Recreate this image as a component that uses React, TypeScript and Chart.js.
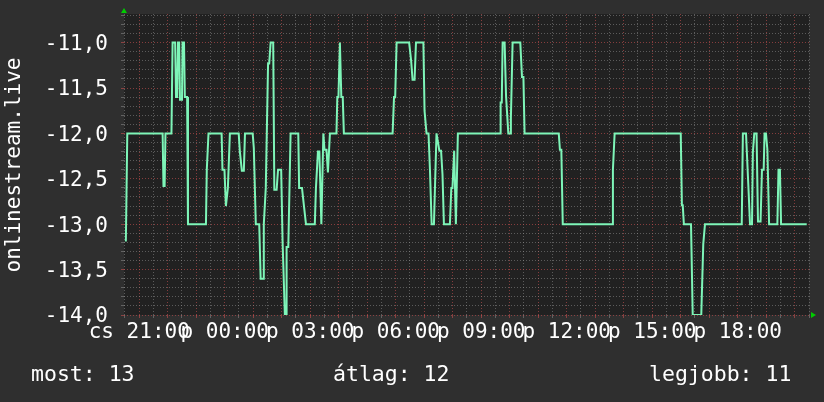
import React, { useEffect, useRef } from "react";
import { Chart, registerables } from "chart.js";

Chart.register(...registerables);

// time in hours counted from Thursday 00:00 (values > 24 are Friday)
const hours = [
  20.53, 20.58, 21.82, 21.85, 21.89, 21.92, 22.13, 22.17, 22.26, 22.29,
  22.33, 22.36, 22.4, 22.43, 22.5, 22.52, 22.57, 22.6, 22.68, 22.71,
  23.34, 23.37, 23.43, 23.89, 23.92, 23.99, 24.04, 24.11, 24.18, 24.49,
  24.53, 24.6, 24.67, 24.71, 24.98, 25.02, 25.09, 25.21, 25.26, 25.35,
  25.37, 25.44, 25.52, 25.56, 25.61, 25.7, 25.74, 25.82, 25.87, 25.98,
  26.03, 26.11, 26.15, 26.17, 26.23, 26.31, 26.58, 26.61, 26.71, 26.78,
  26.85, 27.16, 27.2, 27.27, 27.32, 27.39, 27.46, 27.5, 27.57, 27.62,
  27.69, 27.92, 27.95, 27.99, 28.04, 28.09, 28.14, 28.18, 29.89, 29.94,
  29.98, 30.03, 30.47, 30.54, 30.59, 30.66, 30.71, 30.97, 31.01, 31.08,
  31.15, 31.2, 31.26, 31.34, 31.43, 31.53, 31.59, 31.64, 31.69, 31.9,
  31.95, 31.99, 32.05, 32.11, 32.18, 33.66, 33.68, 33.72, 33.75, 33.82,
  33.87, 33.9, 33.95, 34.01, 34.04, 34.1, 34.37, 34.43, 34.48, 34.52,
  35.72, 35.76, 35.81, 35.86, 37.59, 37.62, 37.68, 40.0, 40.04, 40.07,
  40.11, 40.36, 40.42, 40.72, 40.79, 40.85, 42.14, 42.18, 42.29, 42.37,
  42.43, 42.5, 42.53, 42.58, 42.66, 42.71, 42.8, 42.85, 42.91, 42.94,
  42.99, 43.04, 43.1, 43.39, 43.43, 43.48, 43.52, 44.42,
];

const values = [
  -13.19, -12, -12, -12.58, -12.58, -12, -12, -11, -11, -11.6,
  -11.6, -11, -11, -11.63, -11.63, -11, -11, -11.6, -11.6, -13,
  -13, -12.4, -12, -12, -12.4, -12.4, -12.8, -12.6, -12, -12,
  -12.2, -12.41, -12.41, -12, -12, -12.16, -13, -13, -13.6, -13.6,
  -13, -12.6, -11.23, -11.23, -11, -11, -12.62, -12.62, -12.4, -12.4,
  -13.2, -14, -14, -13.25, -13.25, -12, -12, -12.6, -12.6, -12.8,
  -13, -13, -12.6, -12.2, -12.2, -13, -12, -12.18, -12.18, -12.43,
  -12, -12, -11.6, -11.6, -11, -11.6, -11.6, -12, -12, -11.6,
  -11.6, -11, -11, -11.2, -11.41, -11.41, -11, -11, -11.75, -12,
  -12, -12.4, -13, -13, -12, -12.19, -12.19, -12.45, -13, -13,
  -12.6, -12.6, -12.19, -13, -12, -12, -11.66, -11.66, -11, -11,
  -11.59, -11.59, -12, -12, -11.83, -11, -11, -11.38, -11.38, -12,
  -12, -12.18, -12.18, -13, -13, -12.4, -12, -12, -12.79, -12.79,
  -13, -13, -14, -14, -13.22, -13, -13, -12, -12, -12.56,
  -13, -13, -12.21, -12, -12, -12.97, -12.97, -12.4, -12.4, -12,
  -12, -12.18, -13, -13, -12.4, -12.4, -13, -13,
];

const xTickHours = [21, 24, 27, 30, 33, 36, 39, 42];
const xTickLabels = ["cs 21:00", "p 00:00", "p 03:00", "p 06:00", "p 09:00", "p 12:00", "p 15:00", "p 18:00"];
const yAxisTitle = "onlinestream.live";
const legendLabels = ["most: 13", "átlag: 12", "legjobb: 11"];

const X_MIN = 20.465;
const X_MAX = 44.5;
const Y_MIN = -14;
const Y_MAX = -10.685;

const FONT = '"DejaVu Sans Mono", monospace';
const MAJOR = "rgba(200,80,80,0.6)";
const MINOR = "rgba(150,150,150,0.5)";

const isMult = (v: number, m: number) => Math.abs(v / m - Math.round(v / m)) < 1e-6;

const decorPlugin = {
  id: "decor",
  beforeDraw(chart: any) {
    const { ctx, chartArea } = chart;
    ctx.save();
    ctx.fillStyle = "#2f2f2f";
    ctx.fillRect(0, 0, chart.width, chart.height);
    ctx.fillStyle = "#212121";
    ctx.fillRect(chartArea.left, chartArea.top, chartArea.right - chartArea.left, chartArea.bottom - chartArea.top);
    ctx.restore();
  },
  afterDraw(chart: any) {
    const { ctx, chartArea } = chart;
    ctx.save();
    ctx.fillStyle = "#ffffff";
    ctx.font = `21px ${FONT}`;
    // y axis title
    ctx.save();
    ctx.translate(20, 165);
    ctx.rotate(-Math.PI / 2);
    ctx.textAlign = "center";
    ctx.textBaseline = "alphabetic";
    ctx.fillText(yAxisTitle, 0, 0);
    ctx.restore();
    // legend texts
    ctx.font = `21.5px ${FONT}`;
    ctx.textBaseline = "alphabetic";
    ctx.textAlign = "left";
    ctx.fillText(legendLabels[0], 31, 381);
    ctx.fillText(legendLabels[1], 333, 381);
    ctx.fillText(legendLabels[2], 649, 381);
    // arrows
    ctx.fillStyle = "#00cc00";
    const l = chartArea.left;
    ctx.beginPath();
    ctx.moveTo(l - 3, 13);
    ctx.lineTo(l + 3, 13);
    ctx.lineTo(l, 8);
    ctx.closePath();
    ctx.fill();
    const b = chartArea.bottom;
    const r = chartArea.right;
    ctx.beginPath();
    ctx.moveTo(r + 2, b - 3);
    ctx.lineTo(r + 2, b + 3);
    ctx.lineTo(r + 7, b);
    ctx.closePath();
    ctx.fill();
    ctx.restore();
  },
};

export default function App() {
  const canvasRef = useRef<HTMLCanvasElement | null>(null);

  useEffect(() => {
    document.body.style.margin = "0";
    document.body.style.background = "#2f2f2f";
    const canvas = canvasRef.current;
    if (!canvas) return;
    const chart = new Chart(canvas, {
      type: "line",
      data: {
        datasets: [
          {
            data: hours.map((h, i) => ({ x: h, y: values[i] })),
            borderColor: "#7ef5b8",
            borderWidth: 2,
            pointRadius: 0,
            tension: 0,
            fill: false,
          },
        ],
      },
      plugins: [decorPlugin],
      options: {
        animation: false,
        responsive: false,
        devicePixelRatio: 1,
        layout: { padding: { top: 14, right: 15, left: 0, bottom: 0 } },
        plugins: { legend: { display: false }, tooltip: { enabled: false } },
        scales: {
          x: {
            type: "linear",
            min: X_MIN,
            max: X_MAX,
            afterBuildTicks: (scale: any) => {
              const t = [];
              for (let i = 41; i <= 89; i++) t.push({ value: i / 2 });
              scale.ticks = t.filter((o) => o.value >= X_MIN && o.value <= X_MAX);
            },
            afterFit: (scale: any) => {
              scale.height = 87;
              scale.paddingLeft = 0;
              scale.paddingRight = 0;
            },
            grid: {
              color: (c: any) => (isMult(c.tick.value, 1) ? MAJOR : MINOR),
              tickColor: (c: any) => (isMult(c.tick.value, 1) ? MAJOR : MINOR),
              lineWidth: 1,
              tickLength: 3,
              drawTicks: true,
            },
            border: { display: false, dash: [1, 2] },
            ticks: {
              autoSkip: false,
              maxRotation: 0,
              minRotation: 0,
              padding: 2,
              color: "#ffffff",
              font: { family: FONT, size: 21 },
              callback: (v: any) => {
                const idx = xTickHours.findIndex((h) => Math.abs(h - v) < 1e-6);
                return idx >= 0 ? xTickLabels[idx] : "";
              },
            },
          },
          y: {
            type: "linear",
            min: Y_MIN,
            max: Y_MAX,
            afterBuildTicks: (scale: any) => {
              const t = [];
              for (let i = -140; i <= -107; i++) t.push({ value: i / 10 });
              scale.ticks = t;
            },
            afterFit: (scale: any) => {
              scale.width = 124;
              scale.paddingTop = 0;
              scale.paddingBottom = 0;
            },
            grid: {
              color: (c: any) => (isMult(c.tick.value, 0.5) ? MAJOR : MINOR),
              tickColor: (c: any) => (isMult(c.tick.value, 0.5) ? MAJOR : MINOR),
              lineWidth: 1,
              tickLength: 3,
              drawTicks: true,
            },
            border: { display: false, dash: [1, 2] },
            ticks: {
              autoSkip: false,
              padding: 13,
              labelOffset: 2,
              color: "#ffffff",
              font: { family: FONT, size: 21 },
              callback: (v: any) => (isMult(v, 0.5) ? Number(v).toFixed(1).replace(".", ",") : ""),
            },
          },
        },
      },
    });
    return () => chart.destroy();
  }, []);

  return (
    <div style={{ width: 824, height: 402, background: "#2f2f2f" }}>
      <canvas ref={canvasRef} width={824} height={402} style={{ display: "block", width: 824, height: 402 }} />
    </div>
  );
}
